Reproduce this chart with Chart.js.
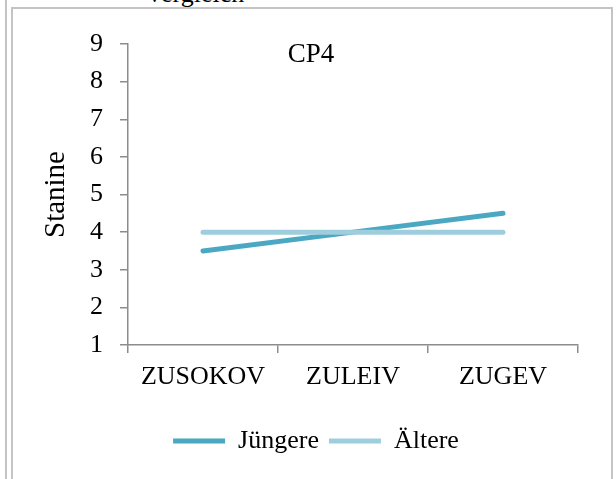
<!DOCTYPE html>
<html>
<head>
<meta charset="utf-8">
<script src="https://cdn.jsdelivr.net/npm/chart.js@4"></script>
<style>
  html, body { margin: 0; padding: 0; background: #fff; }
  body { width: 616px; height: 479px; position: relative; overflow: hidden; font-family: "Liberation Serif", "Times New Roman", serif; }
  .rule { position: absolute; left: 5px; top: 0; width: 2px; height: 479px; background: #c4c4c4; }
  .box { position: absolute; left: 11px; top: 7px; width: 598px; height: 500px; border: 2px solid #c4c4c4; border-bottom: none; }
  .cut { position: absolute; left: 148px; top: -19px; font-size: 26px; line-height: 26px; color: #000; white-space: nowrap; }
  #wrap { position: absolute; left: 0; top: 0; width: 616px; height: 479px; }
</style>
</head>
<body>
<div class="rule"></div>
<div class="box"></div>
<div class="cut">vergleich</div>
<div id="wrap"><canvas id="cp4Chart" width="616" height="479"></canvas></div>
<script>
// --- Daten ---
const categories = ["ZUSOKOV", "ZULEIV", "ZUGEV"];
const juengere = [3.5, 4.0, 4.5];
const aeltere = [4, 4, 4];
const seriesNames = ["Jüngere", "Ältere"];
const yMin = 1, yMax = 9;
const chartTitle = "CP4";
const yTitle = "Stanine";

const serif = '"Liberation Serif", "Times New Roman", serif';
const axisGray = "#8c8c8c";

// --- Titel im Diagrammbereich ---
const innerTitle = {
  id: "innerTitle",
  afterDraw(chart) {
    const { ctx, chartArea } = chart;
    ctx.save();
    ctx.font = "27px " + serif;
    ctx.fillStyle = "#000";
    ctx.textAlign = "center";
    ctx.textBaseline = "alphabetic";
    ctx.fillText(chartTitle, chartArea.left + 183, chartArea.top + 18);
    ctx.restore();
  }
};

const ctx = document.getElementById("cp4Chart").getContext("2d");
new Chart(ctx, {
  type: "line",
  data: {
    labels: categories,
    datasets: [
      { label: seriesNames[0], data: juengere, borderColor: "#4BA8C2", backgroundColor: "#4BA8C2",
        borderWidth: 5, borderCapStyle: "round", pointRadius: 0, tension: 0, order: 1 },
      { label: seriesNames[1], data: aeltere, borderColor: "#9ECDDD", backgroundColor: "#9ECDDD",
        borderWidth: 5, borderCapStyle: "round", pointRadius: 0, tension: 0, order: 0 }
    ]
  },
  options: {
    responsive: false,
    animation: false,
    layout: { padding: { left: 54, right: 38, top: 44, bottom: 15 } },
    plugins: {
      tooltip: { enabled: false },
      legend: {
        position: "bottom",
        labels: {
          usePointStyle: true,
          pointStyle: "line",
          pointStyleWidth: 52,
          padding: 10,
          color: "#000",
          font: { family: serif, size: 26 },
          sort: (a, b) => a.datasetIndex - b.datasetIndex
        }
      }
    },
    scales: {
      x: {
        offset: true,
        grid: { offset: true, drawOnChartArea: false, drawTicks: true, tickLength: 8, color: axisGray, lineWidth: 1.5 },
        border: { display: true, color: axisGray, width: 1.5 },
        ticks: { color: "#000", padding: 9, font: { family: serif, size: 26 }, maxRotation: 0 },
        afterFit(scale) { scale.height = 73; }
      },
      y: {
        min: yMin,
        max: yMax,
        grid: { drawOnChartArea: false, drawTicks: true, tickLength: 8, color: axisGray, lineWidth: 1.5 },
        border: { display: true, color: axisGray, width: 1.5 },
        ticks: { stepSize: 1, color: "#000", padding: 17, font: { family: serif, size: 26 } },
        title: { display: true, text: yTitle, color: "#000", font: { family: serif, size: 29 }, padding: { top: -15, bottom: 0 } },
        afterFit(scale) { scale.width = 74; }
      }
    }
  },
  plugins: [innerTitle]
});
</script>
</body>
</html>
